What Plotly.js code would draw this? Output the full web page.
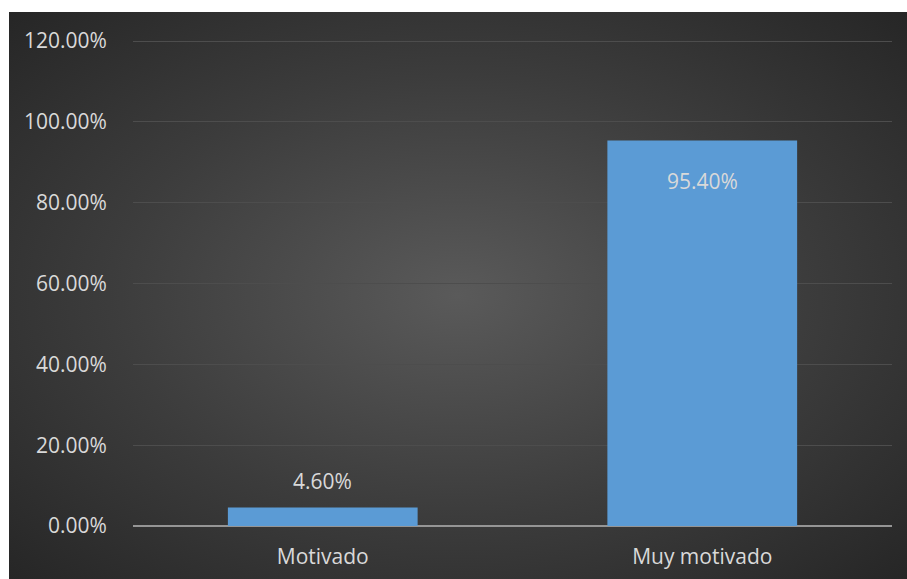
<!DOCTYPE html>
<html>
<head>
<meta charset="utf-8">
<script src="https://cdn.plot.ly/plotly-3.0.1.min.js"></script>
<style>
  html, body { margin:0; padding:0; background:#ffffff; width:907px; height:579px; overflow:hidden; }
  #bg { position:absolute; left:9px; top:12px; width:898px; height:567px;
        background: radial-gradient(ellipse at 50% 50%, #5a5a5a 0%, #3c3c3c 55%, #262626 100%); }
  #chart { position:absolute; left:0; top:0; width:907px; height:579px; }
</style>
</head>
<body>
<div id="bg"></div>
<div id="chart"></div>
<script>
const categories = ["Motivado", "Muy motivado"];
const values = [0.046, 0.954];
const valueLabels = ["4.60%", "95.40%"];

const fontFamily = "Open Sans, Noto Sans, sans-serif";
const textColor = "#d9d9d9";
const fs = 21;

const trace = {
  type: "bar",
  x: categories,
  y: values,
  marker: { color: "#5b9bd5", line: { width: 0 } },
  hoverinfo: "skip"
};

const annotations = [
  { x: categories[0], y: values[0], xref: "x", yref: "y", text: valueLabels[0],
    showarrow: false, yanchor: "bottom", yshift: 10, font: { family: fontFamily, size: fs, color: textColor } },
  { x: categories[1], y: values[1], xref: "x", yref: "y", text: valueLabels[1],
    showarrow: false, yanchor: "top", yshift: -25, font: { family: fontFamily, size: fs, color: textColor } }
];

const layout = {
  width: 907, height: 579,
  margin: { l: 133, r: 15, t: 39, b: 53 },
  paper_bgcolor: "rgba(0,0,0,0)",
  plot_bgcolor: "rgba(0,0,0,0)",
  bargap: 0.5,
  showlegend: false,
  font: { family: fontFamily, size: fs, color: textColor },
  xaxis: {
    showgrid: false, showline: false, zeroline: false,
    ticks: "outside", ticklen: 12, tickcolor: "rgba(0,0,0,0)",
    tickfont: { family: fontFamily, size: fs, color: textColor }
  },
  yaxis: {
    range: [0, 1.205], tickvals: [0, 0.2, 0.4, 0.6, 0.8, 1.0, 1.2], tickformat: ".2%",
    showgrid: true, gridcolor: "#4d4d4d", gridwidth: 1,
    zeroline: true, zerolinecolor: "#959595", zerolinewidth: 2,
    showline: false,
    ticks: "outside", ticklen: 21, tickcolor: "rgba(0,0,0,0)",
    tickfont: { family: fontFamily, size: fs, color: textColor }
  },
  annotations: annotations
};

Plotly.newPlot("chart", [trace], layout, { displayModeBar: false, staticPlot: true });
</script>
</body>
</html>
